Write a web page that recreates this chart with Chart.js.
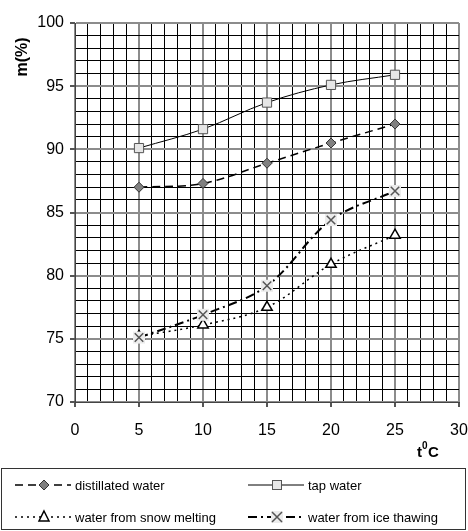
<!DOCTYPE html>
<html>
<head>
<meta charset="utf-8">
<script src="https://cdn.jsdelivr.net/npm/chart.js@4.4.0/dist/chart.umd.min.js"></script>
<style>
  html, body { margin: 0; padding: 0; background: #fff; }
  #wrap { width: 468px; height: 531px; position: relative; }
</style>
</head>
<body>
<div id="wrap"><canvas id="chart" width="468" height="531"></canvas></div>
<script>
// data
const temps = [5, 10, 15, 20, 25];
const distilled = [87.0, 87.3, 88.9, 90.5, 92.0];
const tapWater = [90.1, 91.6, 93.7, 95.1, 95.9];
const snowMelt = [75.2, 76.1, 77.5, 80.9, 83.2];
const iceThaw = [75.1, 76.9, 79.2, 84.4, 86.7];

const seriesNames = ['distillated water', 'tap water', 'water from snow melting', 'water from ice thawing'];

const FONT = '"Liberation Sans", Arial, sans-serif';

function pts(ys) {
    return temps.map((t, i) => ({ x: t, y: ys[i] }));
}

const isMajor = v => Math.abs(v % 5) < 1e-6;

// marker drawing for the legend box
function drawMarker(ctx, kind, x, y) {
    ctx.save();
    ctx.setLineDash([]);
    if (kind === 'diamond') {
        ctx.beginPath();
        ctx.moveTo(x, y - 5); ctx.lineTo(x + 5, y); ctx.lineTo(x, y + 5); ctx.lineTo(x - 5, y); ctx.closePath();
        ctx.fillStyle = '#808080'; ctx.fill();
        ctx.strokeStyle = '#333'; ctx.lineWidth = 1; ctx.stroke();
    } else if (kind === 'square') {
        ctx.fillStyle = '#e6e6e6'; ctx.fillRect(x - 4.5, y - 4.5, 9, 9);
        ctx.strokeStyle = '#555'; ctx.lineWidth = 1; ctx.strokeRect(x - 4.5, y - 4.5, 9, 9);
    } else if (kind === 'triangle') {
        ctx.beginPath();
        ctx.moveTo(x, y - 6); ctx.lineTo(x + 5, y + 4); ctx.lineTo(x - 5, y + 4); ctx.closePath();
        ctx.fillStyle = '#fff'; ctx.fill();
        ctx.strokeStyle = '#000'; ctx.lineWidth = 1.5; ctx.stroke();
    } else if (kind === 'cross') {
        ctx.fillStyle = '#ececec'; ctx.fillRect(x - 6, y - 6, 12, 12);
        ctx.beginPath();
        ctx.moveTo(x - 5, y - 5); ctx.lineTo(x + 5, y + 5);
        ctx.moveTo(x + 5, y - 5); ctx.lineTo(x - 5, y + 5);
        ctx.strokeStyle = '#555'; ctx.lineWidth = 1.5; ctx.stroke();
    }
    ctx.restore();
}

const legendItems = [
    { text: seriesNames[0], dash: [8, 5], width: 1.5, marker: 'diamond', col: 0, row: 0 },
    { text: seriesNames[1], dash: [], width: 1, marker: 'square', col: 1, row: 0 },
    { text: seriesNames[2], dash: [2, 4], width: 1.5, marker: 'triangle', col: 0, row: 1 },
    { text: seriesNames[3], dash: [9, 4, 2, 4], width: 2, marker: 'cross', col: 1, row: 1 }
];

const extras = {
    id: 'extras',
    afterDraw(chart) {
        const ctx = chart.ctx;
        ctx.save();
        // y axis title
        ctx.fillStyle = '#000';
        ctx.font = 'bold 16px ' + FONT;
        ctx.translate(27, 57);
        ctx.rotate(-Math.PI / 2);
        ctx.textAlign = 'center';
        ctx.textBaseline = 'alphabetic';
        ctx.fillText('m(%)', 0, 0);
        ctx.restore();

        // x axis title t0C
        ctx.save();
        ctx.fillStyle = '#000';
        ctx.textBaseline = 'alphabetic';
        ctx.font = 'bold 15px ' + FONT;
        ctx.fillText('t', 417, 457);
        ctx.font = 'bold 10px ' + FONT;
        ctx.fillText('0', 422, 449);
        ctx.font = 'bold 15px ' + FONT;
        ctx.fillText('C', 428, 457);
        ctx.restore();

        // legend box
        ctx.save();
        ctx.strokeStyle = '#333';
        ctx.lineWidth = 1;
        ctx.strokeRect(1.5, 468.5, 464, 61);
        const colX = [15, 248];
        const rowY = [485, 517];
        ctx.font = '13px ' + FONT;
        ctx.textBaseline = 'middle';
        ctx.fillStyle = '#000';
        legendItems.forEach(it => {
            const x0 = colX[it.col], y = rowY[it.row];
            ctx.save();
            ctx.strokeStyle = '#000';
            ctx.lineWidth = it.width;
            ctx.setLineDash(it.dash);
            ctx.beginPath();
            ctx.moveTo(x0, y); ctx.lineTo(x0 + 56, y);
            ctx.stroke();
            ctx.restore();
            drawMarker(ctx, it.marker, x0 + 29, y);
            ctx.fillText(it.text, x0 + 60, y + 1);
        });
        ctx.restore();
    }
};

const gridColor = c => isMajor(c.tick.value) ? '#8c8c8c' : '#000';
const gridWidth = c => isMajor(c.tick.value) ? 2 : 1;
const tickColor = c => isMajor(c.tick.value) ? '#555' : 'rgba(0,0,0,0)';

// first dataset is drawn on top, so the ice markers come first
new Chart(document.getElementById('chart'), {
    type: 'line',
    data: {
        datasets: [
            {
                label: seriesNames[3] + ' marker',
                data: pts(iceThaw),
                showLine: false,
                pointStyle: 'crossRot', pointRadius: 6,
                pointBorderColor: '#555', pointBorderWidth: 1.5
            },
            {
                // light backdrop behind the X markers
                label: seriesNames[3] + ' bg',
                data: pts(iceThaw),
                showLine: false,
                pointStyle: 'rect', pointRadius: 8.5,
                pointBackgroundColor: '#ececec', pointBorderColor: '#ececec', pointBorderWidth: 0
            },
            {
                label: seriesNames[3],
                data: pts(iceThaw),
                borderColor: '#000', borderWidth: 2, borderDash: [9, 4, 2, 4],
                pointRadius: 0,
                tension: 0.35, fill: false
            },
            {
                label: seriesNames[1],
                data: pts(tapWater),
                borderColor: '#000', borderWidth: 1,
                pointStyle: 'rect', pointRadius: 6.5,
                pointBackgroundColor: '#e6e6e6', pointBorderColor: '#555', pointBorderWidth: 1,
                tension: 0.35, fill: false
            },
            {
                label: seriesNames[0],
                data: pts(distilled),
                borderColor: '#000', borderWidth: 1.5, borderDash: [8, 5],
                pointStyle: 'rectRot', pointRadius: 5,
                pointBackgroundColor: '#808080', pointBorderColor: '#333', pointBorderWidth: 1,
                tension: 0.35, fill: false
            },
            {
                label: seriesNames[2],
                data: pts(snowMelt),
                borderColor: '#000', borderWidth: 1.5, borderDash: [2, 4],
                pointStyle: 'triangle', pointRadius: 6,
                pointBackgroundColor: '#fff', pointBorderColor: '#000', pointBorderWidth: 1.5,
                tension: 0.35, fill: false
            }
        ]
    },
    options: {
        responsive: false,
        animation: false,
        events: [],
        layout: { padding: { left: 0, top: 23, right: 9, bottom: 0 } },
        plugins: {
            legend: { display: false },
            tooltip: { enabled: false }
        },
        scales: {
            x: {
                type: 'linear',
                min: 0, max: 30,
                afterFit: s => { s.height = 129; s.paddingLeft = 0; s.paddingRight = 0; },
                border: { color: '#444', width: 1 },
                grid: { color: gridColor, lineWidth: gridWidth, tickColor: tickColor, tickLength: 5 },
                ticks: {
                    stepSize: 1, autoSkip: false, maxRotation: 0,
                    padding: 14,
                    color: '#000',
                    font: { family: FONT, size: 16 },
                    callback: v => isMajor(v) ? v : ''
                }
            },
            y: {
                min: 70, max: 100,
                afterFit: s => { s.width = 75; s.paddingTop = 0; s.paddingBottom = 0; },
                border: { color: '#444', width: 1 },
                grid: { color: gridColor, lineWidth: gridWidth, tickColor: tickColor, tickLength: 5 },
                ticks: {
                    stepSize: 1, autoSkip: false,
                    padding: 6,
                    color: '#000',
                    font: { family: FONT, size: 16 },
                    callback: v => isMajor(v) ? v : ''
                }
            }
        }
    },
    plugins: [extras]
});
</script>
</body>
</html>
